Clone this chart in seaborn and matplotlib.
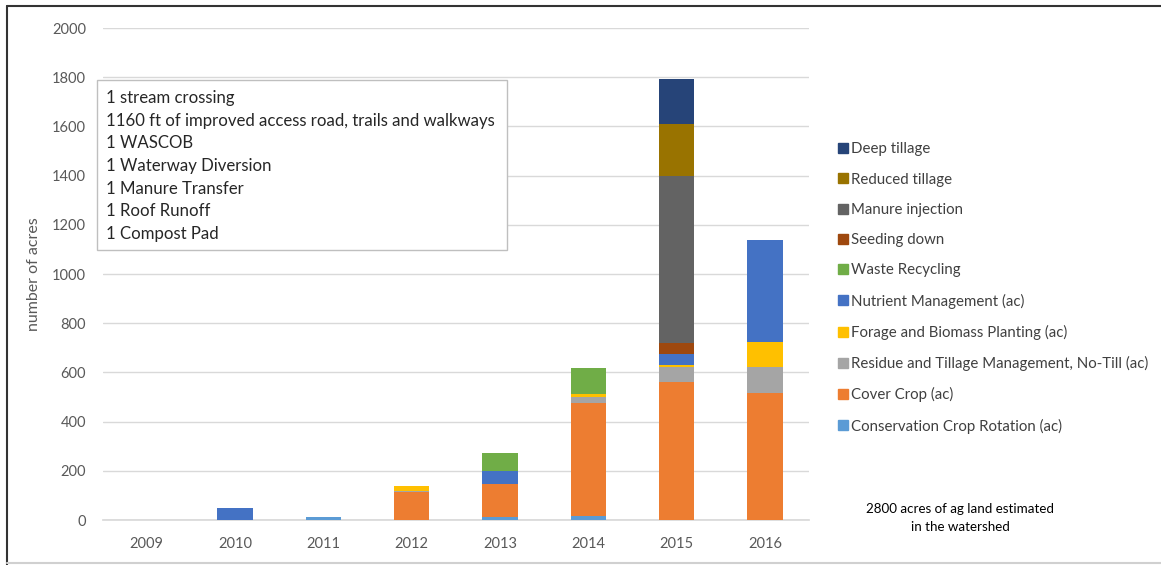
import numpy as np
import pandas as pd
import matplotlib
matplotlib.use("Agg")
import matplotlib.pyplot as plt
from matplotlib.patches import Rectangle
from matplotlib.lines import Line2D
import seaborn as sns

years = ["2009", "2010", "2011", "2012", "2013", "2014", "2015", "2016"]

# series, bottom to top of stack
conservation_crop_rotation = [0, 0, 14, 0, 11, 17, 0, 0]
cover_crop = [0, 0, 0, 115, 137, 459, 561, 515]
residue_tillage_notill = [0, 0, 0, 4, 0, 24, 61, 107]
forage_biomass = [0, 0, 0, 18, 0, 14, 7, 101]
nutrient_management = [0, 48, 0, 3, 50, 0, 47, 416]
waste_recycling = [0, 0, 0, 0, 76, 103, 0, 0]
seeding_down = [0, 0, 0, 0, 0, 0, 43, 0]
manure_injection = [0, 0, 0, 0, 0, 0, 681, 0]
reduced_tillage = [0, 0, 0, 0, 0, 0, 209, 0]
deep_tillage = [0, 0, 0, 0, 0, 0, 183, 0]

series_names = [
    "Conservation Crop Rotation (ac)",
    "Cover Crop (ac)",
    "Residue and Tillage Management, No-Till (ac)",
    "Forage and Biomass Planting (ac)",
    "Nutrient Management (ac)",
    "Waste Recycling",
    "Seeding down",
    "Manure injection",
    "Reduced tillage",
    "Deep tillage",
]
series_values = [
    conservation_crop_rotation, cover_crop, residue_tillage_notill, forage_biomass,
    nutrient_management, waste_recycling, seeding_down, manure_injection,
    reduced_tillage, deep_tillage,
]
colors = ["#5B9BD5", "#ED7D31", "#A5A5A5", "#FFC000", "#4472C4", "#70AD47",
          "#9E480E", "#636363", "#997300", "#264478"]

box_lines = [
    "1 stream crossing",
    "1160 ft of improved access road, trails and walkways",
    "1 WASCOB",
    "1 Waterway Diversion",
    "1 Manure Transfer",
    "1 Roof Runoff",
    "1 Compost Pad",
]
note = "2800 acres of ag land estimated\nin the watershed"
y_ticks = list(range(0, 2001, 200))

sns.set_theme(style="white")
plt.rcParams["font.family"] = ["Lato", "DejaVu Sans"]

W, H = 1161, 565
fig = plt.figure(figsize=(W / 100, H / 100), dpi=100)
ax = fig.add_axes([102.5 / W, 1 - 520 / H, (809 - 102.5) / W, (520 - 28) / H])

bottom = np.zeros(len(years))
for name, vals, col in zip(series_names, series_values, colors):
    vals = np.array(vals, dtype=float)
    df = pd.DataFrame({"year": years, "value": vals})
    sns.barplot(data=df, x="year", y="value", order=years, color=col,
                bottom=bottom, width=0.4, ax=ax, errorbar=None,
                saturation=1, edgecolor="none", linewidth=0, zorder=3)
    bottom = bottom + vals

ax.set_ylim(0, 2000)
ax.set_xlim(-0.5, len(years) - 0.5)
ax.set_yticks(y_ticks)
ax.yaxis.grid(True, color="#D9D9D9", linewidth=1, zorder=0)
ax.set_axisbelow(True)
for s in ["top", "right", "left"]:
    ax.spines[s].set_visible(False)
ax.spines["bottom"].set_color("#D9D9D9")
ax.tick_params(axis="both", length=0, labelsize=10.5, colors="#595959")
ax.tick_params(axis="y", pad=12)
ax.tick_params(axis="x", pad=12.5)
ax.set_xlabel("")
ax.set_ylabel("number of acres", fontsize=11.5, color="#595959", labelpad=8)

# text box
fig.patches.append(Rectangle((97 / W, 1 - 250 / H), (507 - 97) / W, (250 - 80) / H,
                             transform=fig.transFigure, facecolor="white",
                             edgecolor="#BFBFBF", linewidth=1, zorder=5))
fig.text(106 / W, 1 - 90 / H, "\n".join(box_lines), ha="left", va="top",
         fontsize=12.1, color="#262626", linespacing=1.51, zorder=6)

# legend (top entry first)
handles = [Line2D([0], [0], marker="s", linestyle="none", markersize=7,
                  markerfacecolor=c, markeredgecolor=c) for c in colors[::-1]]
leg = fig.legend(handles, series_names[::-1], loc="upper left",
                 bbox_to_anchor=(830 / W, 1 - 135 / H), frameon=False,
                 fontsize=10.8, labelspacing=1.08, handlelength=0.8,
                 handletextpad=0.1, borderpad=0)
for t in leg.get_texts():
    t.set_color("#404040")

fig.text(960 / W, 1 - 518 / H, note, ha="center", va="center", fontsize=9.6,
         color="#000000", linespacing=1.6)

# outer frame
fig.add_artist(Line2D([7 / W, 7 / W], [0, 1 - 6 / H], transform=fig.transFigure,
                      color="#333333", linewidth=1.5))
fig.add_artist(Line2D([7 / W, 1], [1 - 6 / H, 1 - 6 / H], transform=fig.transFigure,
                      color="#333333", linewidth=1.5))
fig.add_artist(Line2D([7 / W, 1], [1 - 563 / H, 1 - 563 / H], transform=fig.transFigure,
                      color="#D0D0D0", linewidth=1.5))

fig.savefig("out.png", dpi=100)
